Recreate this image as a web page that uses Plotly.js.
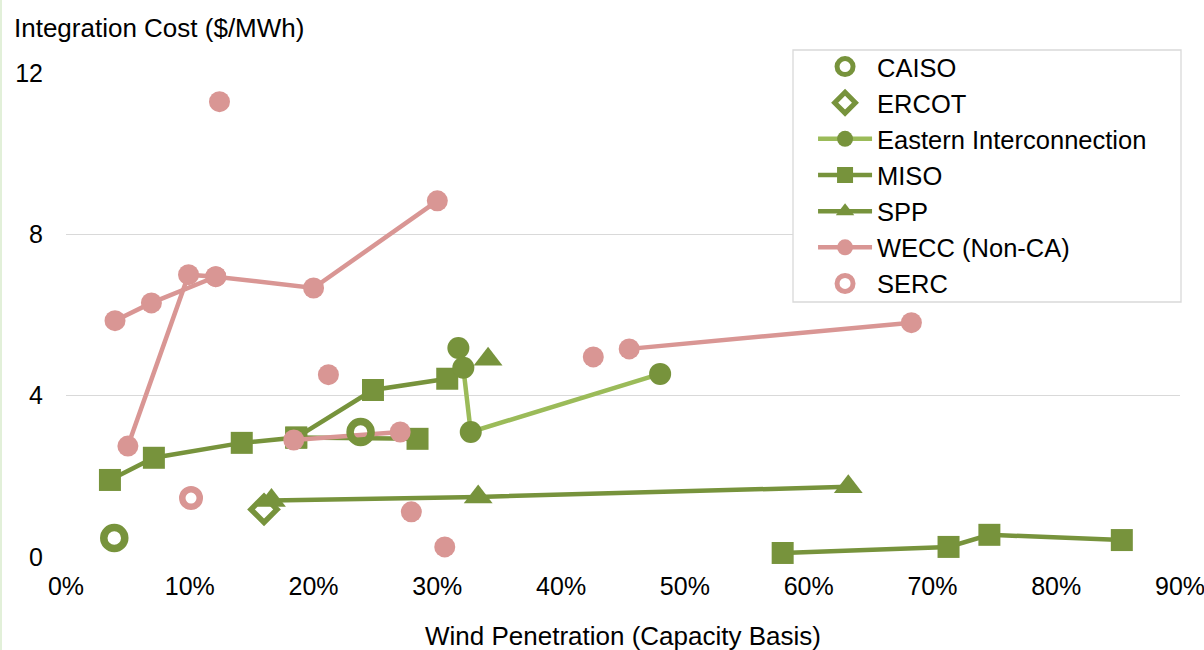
<!DOCTYPE html>
<html>
<head>
<meta charset="utf-8">
<script src="https://cdn.plot.ly/plotly-3.0.1.min.js"></script>
<style>
html,body{margin:0;padding:0;background:#fff;}
#chart{width:1204px;height:650px;}
</style>
</head>
<body>
<div id="chart"></div>
<script>
// Wind penetration (% capacity basis) and integration cost ($/MWh); null = break between study lines
var caisoX = [3.9, 23.8];
var caisoY = [0.47, 3.10];

var ercotX = [16.0];
var ercotY = [1.18];

var easternX = [31.7, 32.1, 32.7, 48.0];
var easternY = [5.18, 4.69, 3.10, 4.54];

var misoX = [3.55, 7.1, 14.2, 18.6, 24.8, 30.8, null, 18.6, 28.4, null, 57.9, 71.3, 74.6, 85.3];
var misoY = [1.91, 2.46, 2.83, 2.96, 4.14, 4.42, null, 2.96, 2.93, null, 0.10, 0.25, 0.55, 0.42];

var sppX = [16.6, 33.3, 63.2, null, 34.1];
var sppY = [1.40, 1.49, 1.74, null, 4.90];

var weccX = [3.96, 6.9, 12.1, 20.0, 30.0, null, 5.0, 9.9, 12.1, null, 18.4, 27.0, null, 45.5, 68.3, null, 12.4, null, 21.2, null, 27.9, null, 30.6, null, 42.6];
var weccY = [5.86, 6.30, 6.95, 6.67, 8.83, null, 2.75, 7.00, 6.95, null, 2.90, 3.10, null, 5.16, 5.81, null, 11.29, null, 4.52, null, 1.12, null, 0.25, null, 4.96];

var sercX = [10.1];
var sercY = [1.46];

var xTicks = [0, 10, 20, 30, 40, 50, 60, 70, 80, 90];
var yTicks = [0, 4, 8, 12];

var dark = '#77933C', light = '#9BBB59', pink = '#D99694';
var FONT = 'Liberation Sans, Arial, sans-serif';

var traces = [
  {name:'ERCOT', x:ercotX, y:ercotY, type:'scatter', mode:'markers', legendrank:2,
   marker:{symbol:'diamond-open', size:20, color:dark, line:{color:dark, width:5.5}}},
  {name:'MISO', x:misoX, y:misoY, type:'scatter', mode:'lines+markers', legendrank:4,
   line:{color:dark, width:4.5}, marker:{symbol:'square', size:22, color:dark}},
  {name:'SPP', x:sppX, y:sppY, type:'scatter', mode:'lines+markers', legendrank:5,
   line:{color:dark, width:4.5}, marker:{symbol:'triangle-up', size:25, color:dark}},
  {name:'Eastern Interconnection', x:easternX, y:easternY, type:'scatter', mode:'lines+markers', legendrank:3,
   line:{color:light, width:4.5}, marker:{symbol:'circle', size:22, color:dark}},
  {name:'WECC (Non-CA)', x:weccX, y:weccY, type:'scatter', mode:'lines+markers', legendrank:6,
   line:{color:pink, width:4.5}, marker:{symbol:'circle', size:21, color:pink}},
  {name:'SERC', x:sercX, y:sercY, type:'scatter', mode:'markers', legendrank:7,
   marker:{symbol:'circle-open', size:17.5, color:pink, line:{color:pink, width:6.5}}},
  {name:'CAISO', x:caisoX, y:caisoY, type:'scatter', mode:'markers', legendrank:1,
   marker:{symbol:'circle-open', size:21, color:dark, line:{color:dark, width:7.5}}}
];
traces.forEach(function(t){ t.cliponaxis = false; t.connectgaps = false; t.hoverinfo = 'x+y+name'; });

var layout = {
  width:1204, height:650,
  margin:{l:66, r:24, t:73, b:93},
  paper_bgcolor:'#fff', plot_bgcolor:'#fff',
  font:{family:FONT, size:25, color:'#000'},
  showlegend:true,
  xaxis:{range:[0,90], tickvals:xTicks, ticktext:xTicks.map(function(v){return v+'%';}),
         showgrid:false, zeroline:false, showline:false, ticks:'', ticklabelstandoff:12,
         ticklabeloverflow:'allow',
         tickfont:{family:FONT, size:25, color:'#000'}, fixedrange:true},
  yaxis:{range:[0,12], tickvals:yTicks, showgrid:true, gridcolor:'#D9D9D9', gridwidth:1.5,
         zeroline:false, showline:false, ticks:'', ticklabelstandoff:22,
         tickfont:{family:FONT, size:25, color:'#000'}, fixedrange:true},
  legend:{x:0.6706, y:1.061, xanchor:'left', yanchor:'top', bgcolor:'rgba(0,0,0,0)',
          borderwidth:0, font:{family:FONT, size:25.5, color:'#000'},
          itemwidth:54, tracegroupgap:0},
  annotations:[
    {text:'Integration Cost ($/MWh)', xref:'paper', yref:'paper', x:-0.0485, y:1.093,
     xanchor:'left', yanchor:'middle', showarrow:false, font:{family:FONT, size:26, color:'#000'}},
    {text:'Wind Penetration (Capacity Basis)', xref:'paper', yref:'paper', x:0.5, y:-0.1632,
     xanchor:'center', yanchor:'middle', showarrow:false, font:{family:FONT, size:26, color:'#000'}}
  ],
  shapes:[
    {type:'line', xref:'paper', yref:'paper', x0:-0.0588, x1:-0.0588, y0:-0.2, y1:1.16,
     line:{color:'#E2F0D9', width:3}},
    {type:'rect', xref:'paper', yref:'paper', x0:0.6526, x1:1.0009, y0:0.5269, y1:1.0475,
     fillcolor:'#fff', line:{color:'#D9D9D9', width:1.3}, layer:'above'}
  ]
};

Plotly.newPlot('chart', traces, layout, {displayModeBar:false, staticPlot:true});
</script>
</body>
</html>
